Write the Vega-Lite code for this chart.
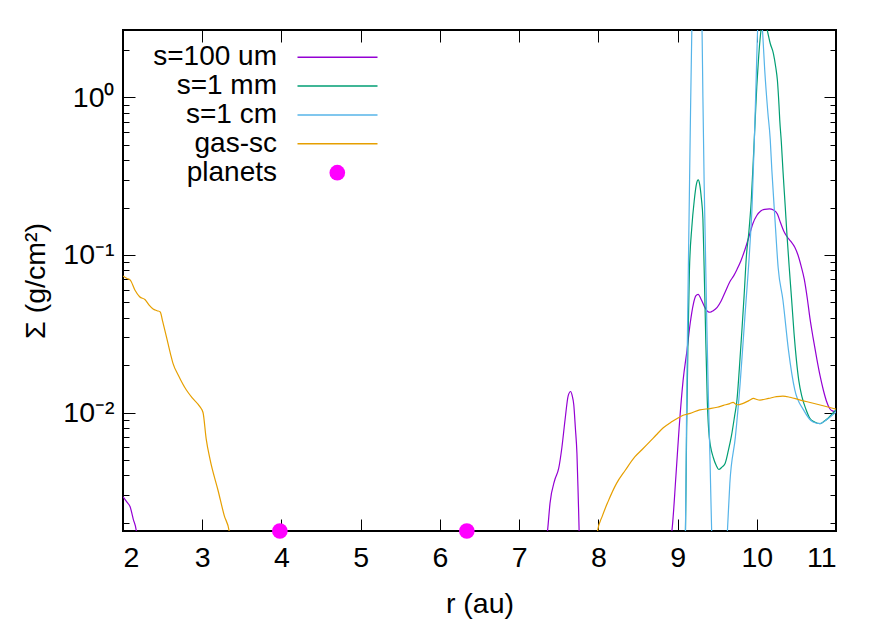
{
  "$schema": "https://vega.github.io/schema/vega-lite/v6.json",
  "width": 713,
  "height": 501,
  "autosize": {"type": "none"},
  "padding": {"left": 123, "top": 30, "right": 52, "bottom": 92},
  "background": "white",
  "config": {
    "view": {"stroke": "black", "strokeWidth": 2},
    "font": "Liberation Sans",
    "axis": {
      "labelFont": "Liberation Sans", "titleFont": "Liberation Sans",
      "labelFontSize": 28.5, "titleFontSize": 28.5,
      "labelColor": "black", "titleColor": "black", "titleFontWeight": "normal",
      "grid": false, "domain": false, "tickColor": "black", "tickWidth": 1
    },
    "legend": {
      "labelFont": "Liberation Sans", "labelFontSize": 28, "labelColor": "black",
      "labelAlign": "right", "padding": 0, "title": null
    }
  },
  "datasets": {
    "curves": [
      {"s": "s=100 um", "r": 2.0, "v": 0.00292},
      {"s": "s=100 um", "r": 2.05, "v": 0.0027},
      {"s": "s=100 um", "r": 2.09, "v": 0.00252},
      {"s": "s=100 um", "r": 2.13, "v": 0.0021},
      {"s": "s=100 um", "r": 2.17, "v": 0.00175},
      {"s": "s=100 um", "r": 2.2, "v": 0.0012},
      {"s": "s=100 um", "r": 7.3, "v": 0.0012},
      {"s": "s=100 um", "r": 7.36, "v": 0.0018},
      {"s": "s=100 um", "r": 7.39, "v": 0.00265},
      {"s": "s=100 um", "r": 7.45, "v": 0.00373},
      {"s": "s=100 um", "r": 7.5, "v": 0.00443},
      {"s": "s=100 um", "r": 7.54, "v": 0.006},
      {"s": "s=100 um", "r": 7.58, "v": 0.009},
      {"s": "s=100 um", "r": 7.62, "v": 0.0128},
      {"s": "s=100 um", "r": 7.65, "v": 0.0136},
      {"s": "s=100 um", "r": 7.67, "v": 0.0128},
      {"s": "s=100 um", "r": 7.69, "v": 0.0112},
      {"s": "s=100 um", "r": 7.71, "v": 0.008},
      {"s": "s=100 um", "r": 7.73, "v": 0.0055},
      {"s": "s=100 um", "r": 7.75, "v": 0.0025},
      {"s": "s=100 um", "r": 7.77, "v": 0.0012},
      {"s": "s=100 um", "r": 8.85, "v": 0.0012},
      {"s": "s=100 um", "r": 8.93, "v": 0.0018},
      {"s": "s=100 um", "r": 8.98, "v": 0.004},
      {"s": "s=100 um", "r": 9.02, "v": 0.008},
      {"s": "s=100 um", "r": 9.07, "v": 0.016},
      {"s": "s=100 um", "r": 9.12, "v": 0.025},
      {"s": "s=100 um", "r": 9.16, "v": 0.037},
      {"s": "s=100 um", "r": 9.2, "v": 0.049},
      {"s": "s=100 um", "r": 9.23, "v": 0.055},
      {"s": "s=100 um", "r": 9.26, "v": 0.0563},
      {"s": "s=100 um", "r": 9.3, "v": 0.052},
      {"s": "s=100 um", "r": 9.34, "v": 0.047},
      {"s": "s=100 um", "r": 9.38, "v": 0.0438},
      {"s": "s=100 um", "r": 9.41, "v": 0.0433},
      {"s": "s=100 um", "r": 9.45, "v": 0.0443},
      {"s": "s=100 um", "r": 9.5, "v": 0.0465},
      {"s": "s=100 um", "r": 9.55, "v": 0.051},
      {"s": "s=100 um", "r": 9.6, "v": 0.058},
      {"s": "s=100 um", "r": 9.66, "v": 0.0676},
      {"s": "s=100 um", "r": 9.71, "v": 0.074},
      {"s": "s=100 um", "r": 9.75, "v": 0.081},
      {"s": "s=100 um", "r": 9.8, "v": 0.092},
      {"s": "s=100 um", "r": 9.85, "v": 0.108},
      {"s": "s=100 um", "r": 9.9, "v": 0.13},
      {"s": "s=100 um", "r": 9.95, "v": 0.158},
      {"s": "s=100 um", "r": 10.0, "v": 0.178},
      {"s": "s=100 um", "r": 10.05, "v": 0.19},
      {"s": "s=100 um", "r": 10.1, "v": 0.195},
      {"s": "s=100 um", "r": 10.16, "v": 0.196},
      {"s": "s=100 um", "r": 10.21, "v": 0.193},
      {"s": "s=100 um", "r": 10.26, "v": 0.182},
      {"s": "s=100 um", "r": 10.3, "v": 0.16},
      {"s": "s=100 um", "r": 10.34, "v": 0.142},
      {"s": "s=100 um", "r": 10.38, "v": 0.131},
      {"s": "s=100 um", "r": 10.43, "v": 0.122},
      {"s": "s=100 um", "r": 10.48, "v": 0.112},
      {"s": "s=100 um", "r": 10.52, "v": 0.1},
      {"s": "s=100 um", "r": 10.56, "v": 0.085},
      {"s": "s=100 um", "r": 10.6, "v": 0.07},
      {"s": "s=100 um", "r": 10.64, "v": 0.052},
      {"s": "s=100 um", "r": 10.67, "v": 0.04},
      {"s": "s=100 um", "r": 10.71, "v": 0.03},
      {"s": "s=100 um", "r": 10.76, "v": 0.0216},
      {"s": "s=100 um", "r": 10.8, "v": 0.017},
      {"s": "s=100 um", "r": 10.84, "v": 0.0139},
      {"s": "s=100 um", "r": 10.88, "v": 0.0118},
      {"s": "s=100 um", "r": 10.92, "v": 0.0106},
      {"s": "s=100 um", "r": 10.96, "v": 0.0102},
      {"s": "s=100 um", "r": 11.0, "v": 0.0101},

      {"s": "s=1 mm", "r": 9.07, "v": 0.001},
      {"s": "s=1 mm", "r": 9.1, "v": 0.0018},
      {"s": "s=1 mm", "r": 9.115, "v": 0.008},
      {"s": "s=1 mm", "r": 9.13, "v": 0.025},
      {"s": "s=1 mm", "r": 9.15, "v": 0.08},
      {"s": "s=1 mm", "r": 9.18, "v": 0.15},
      {"s": "s=1 mm", "r": 9.21, "v": 0.22},
      {"s": "s=1 mm", "r": 9.24, "v": 0.285},
      {"s": "s=1 mm", "r": 9.26, "v": 0.3},
      {"s": "s=1 mm", "r": 9.28, "v": 0.28},
      {"s": "s=1 mm", "r": 9.3, "v": 0.23},
      {"s": "s=1 mm", "r": 9.32, "v": 0.17},
      {"s": "s=1 mm", "r": 9.335, "v": 0.085},
      {"s": "s=1 mm", "r": 9.35, "v": 0.04},
      {"s": "s=1 mm", "r": 9.375, "v": 0.012},
      {"s": "s=1 mm", "r": 9.4, "v": 0.007},
      {"s": "s=1 mm", "r": 9.45, "v": 0.0052},
      {"s": "s=1 mm", "r": 9.49, "v": 0.0046},
      {"s": "s=1 mm", "r": 9.52, "v": 0.00435},
      {"s": "s=1 mm", "r": 9.56, "v": 0.0045},
      {"s": "s=1 mm", "r": 9.6, "v": 0.00475},
      {"s": "s=1 mm", "r": 9.64, "v": 0.0057},
      {"s": "s=1 mm", "r": 9.68, "v": 0.0071},
      {"s": "s=1 mm", "r": 9.72, "v": 0.0095},
      {"s": "s=1 mm", "r": 9.75, "v": 0.012},
      {"s": "s=1 mm", "r": 9.78, "v": 0.019},
      {"s": "s=1 mm", "r": 9.81, "v": 0.032},
      {"s": "s=1 mm", "r": 9.84, "v": 0.055},
      {"s": "s=1 mm", "r": 9.87, "v": 0.1},
      {"s": "s=1 mm", "r": 9.9, "v": 0.14},
      {"s": "s=1 mm", "r": 9.93, "v": 0.22},
      {"s": "s=1 mm", "r": 9.96, "v": 0.44},
      {"s": "s=1 mm", "r": 9.98, "v": 0.72},
      {"s": "s=1 mm", "r": 10.0, "v": 1.17},
      {"s": "s=1 mm", "r": 10.02, "v": 1.7},
      {"s": "s=1 mm", "r": 10.04, "v": 2.3},
      {"s": "s=1 mm", "r": 10.07, "v": 3.0},
      {"s": "s=1 mm", "r": 10.1, "v": 3.1},
      {"s": "s=1 mm", "r": 10.13, "v": 2.7},
      {"s": "s=1 mm", "r": 10.17, "v": 2.2},
      {"s": "s=1 mm", "r": 10.21, "v": 1.9},
      {"s": "s=1 mm", "r": 10.24, "v": 1.55},
      {"s": "s=1 mm", "r": 10.26, "v": 1.29},
      {"s": "s=1 mm", "r": 10.28, "v": 0.9},
      {"s": "s=1 mm", "r": 10.29, "v": 0.72},
      {"s": "s=1 mm", "r": 10.31, "v": 0.52},
      {"s": "s=1 mm", "r": 10.33, "v": 0.347},
      {"s": "s=1 mm", "r": 10.36, "v": 0.2},
      {"s": "s=1 mm", "r": 10.38, "v": 0.137},
      {"s": "s=1 mm", "r": 10.41, "v": 0.083},
      {"s": "s=1 mm", "r": 10.44, "v": 0.052},
      {"s": "s=1 mm", "r": 10.47, "v": 0.032},
      {"s": "s=1 mm", "r": 10.5, "v": 0.0216},
      {"s": "s=1 mm", "r": 10.53, "v": 0.016},
      {"s": "s=1 mm", "r": 10.57, "v": 0.0126},
      {"s": "s=1 mm", "r": 10.62, "v": 0.0105},
      {"s": "s=1 mm", "r": 10.67, "v": 0.0092},
      {"s": "s=1 mm", "r": 10.73, "v": 0.0087},
      {"s": "s=1 mm", "r": 10.8, "v": 0.0085},
      {"s": "s=1 mm", "r": 10.85, "v": 0.0088},
      {"s": "s=1 mm", "r": 10.9, "v": 0.0092},
      {"s": "s=1 mm", "r": 10.95, "v": 0.0098},
      {"s": "s=1 mm", "r": 11.0, "v": 0.0104},

      {"s": "s=1 cm", "r": 9.08, "v": 0.001},
      {"s": "s=1 cm", "r": 9.1, "v": 0.0018},
      {"s": "s=1 cm", "r": 9.115, "v": 0.012},
      {"s": "s=1 cm", "r": 9.13, "v": 0.05},
      {"s": "s=1 cm", "r": 9.145, "v": 0.17},
      {"s": "s=1 cm", "r": 9.16, "v": 0.6},
      {"s": "s=1 cm", "r": 9.18, "v": 2.68},
      {"s": "s=1 cm", "r": 9.21, "v": 7},
      {"s": "s=1 cm", "r": 9.25, "v": 9},
      {"s": "s=1 cm", "r": 9.29, "v": 5},
      {"s": "s=1 cm", "r": 9.31, "v": 2.5},
      {"s": "s=1 cm", "r": 9.32, "v": 1.0},
      {"s": "s=1 cm", "r": 9.335, "v": 0.3},
      {"s": "s=1 cm", "r": 9.35, "v": 0.12},
      {"s": "s=1 cm", "r": 9.37, "v": 0.035},
      {"s": "s=1 cm", "r": 9.39, "v": 0.012},
      {"s": "s=1 cm", "r": 9.41, "v": 0.005},
      {"s": "s=1 cm", "r": 9.43, "v": 0.0018},
      {"s": "s=1 cm", "r": 9.45, "v": 0.001},
      {"s": "s=1 cm", "r": 9.6, "v": 0.001},
      {"s": "s=1 cm", "r": 9.63, "v": 0.0018},
      {"s": "s=1 cm", "r": 9.66, "v": 0.00355},
      {"s": "s=1 cm", "r": 9.73, "v": 0.007},
      {"s": "s=1 cm", "r": 9.79, "v": 0.0153},
      {"s": "s=1 cm", "r": 9.85, "v": 0.0406},
      {"s": "s=1 cm", "r": 9.91, "v": 0.108},
      {"s": "s=1 cm", "r": 9.94, "v": 0.2},
      {"s": "s=1 cm", "r": 9.97, "v": 0.55},
      {"s": "s=1 cm", "r": 9.99, "v": 1.2},
      {"s": "s=1 cm", "r": 10.01, "v": 2.68},
      {"s": "s=1 cm", "r": 10.04, "v": 4.5},
      {"s": "s=1 cm", "r": 10.07, "v": 2.8},
      {"s": "s=1 cm", "r": 10.1, "v": 1.5},
      {"s": "s=1 cm", "r": 10.14, "v": 0.8},
      {"s": "s=1 cm", "r": 10.17, "v": 0.54},
      {"s": "s=1 cm", "r": 10.19, "v": 0.347},
      {"s": "s=1 cm", "r": 10.23, "v": 0.167},
      {"s": "s=1 cm", "r": 10.27, "v": 0.083},
      {"s": "s=1 cm", "r": 10.33, "v": 0.0518},
      {"s": "s=1 cm", "r": 10.4, "v": 0.0249},
      {"s": "s=1 cm", "r": 10.48, "v": 0.0139},
      {"s": "s=1 cm", "r": 10.59, "v": 0.0104},
      {"s": "s=1 cm", "r": 10.71, "v": 0.0087},
      {"s": "s=1 cm", "r": 10.8, "v": 0.0085},
      {"s": "s=1 cm", "r": 10.88, "v": 0.009},
      {"s": "s=1 cm", "r": 11.0, "v": 0.0101},

      {"s": "gas-sc", "r": 2.0, "v": 0.0736},
      {"s": "gas-sc", "r": 2.05, "v": 0.071},
      {"s": "gas-sc", "r": 2.09, "v": 0.0695},
      {"s": "gas-sc", "r": 2.15, "v": 0.06},
      {"s": "gas-sc", "r": 2.21, "v": 0.0543},
      {"s": "gas-sc", "r": 2.28, "v": 0.052},
      {"s": "gas-sc", "r": 2.33, "v": 0.048},
      {"s": "gas-sc", "r": 2.38, "v": 0.0454},
      {"s": "gas-sc", "r": 2.43, "v": 0.0443},
      {"s": "gas-sc", "r": 2.47, "v": 0.0435},
      {"s": "gas-sc", "r": 2.5, "v": 0.038},
      {"s": "gas-sc", "r": 2.55, "v": 0.03},
      {"s": "gas-sc", "r": 2.6, "v": 0.0235},
      {"s": "gas-sc", "r": 2.63, "v": 0.0206},
      {"s": "gas-sc", "r": 2.7, "v": 0.0172},
      {"s": "gas-sc", "r": 2.8, "v": 0.0139},
      {"s": "gas-sc", "r": 2.88, "v": 0.0123},
      {"s": "gas-sc", "r": 2.97, "v": 0.0109},
      {"s": "gas-sc", "r": 3.01, "v": 0.01},
      {"s": "gas-sc", "r": 3.05, "v": 0.0068},
      {"s": "gas-sc", "r": 3.1, "v": 0.005},
      {"s": "gas-sc", "r": 3.2, "v": 0.0032},
      {"s": "gas-sc", "r": 3.28, "v": 0.0022},
      {"s": "gas-sc", "r": 3.34, "v": 0.00177},
      {"s": "gas-sc", "r": 3.38, "v": 0.0012},
      {"s": "gas-sc", "r": 7.95, "v": 0.0012},
      {"s": "gas-sc", "r": 7.99, "v": 0.00177},
      {"s": "gas-sc", "r": 8.05, "v": 0.0022},
      {"s": "gas-sc", "r": 8.12, "v": 0.0027},
      {"s": "gas-sc", "r": 8.23, "v": 0.00355},
      {"s": "gas-sc", "r": 8.34, "v": 0.0043},
      {"s": "gas-sc", "r": 8.46, "v": 0.00523},
      {"s": "gas-sc", "r": 8.55, "v": 0.0058},
      {"s": "gas-sc", "r": 8.65, "v": 0.00653},
      {"s": "gas-sc", "r": 8.73, "v": 0.0072},
      {"s": "gas-sc", "r": 8.82, "v": 0.008},
      {"s": "gas-sc", "r": 8.92, "v": 0.0087},
      {"s": "gas-sc", "r": 9.0, "v": 0.0092},
      {"s": "gas-sc", "r": 9.07, "v": 0.0096},
      {"s": "gas-sc", "r": 9.16, "v": 0.00988},
      {"s": "gas-sc", "r": 9.28, "v": 0.0104},
      {"s": "gas-sc", "r": 9.41, "v": 0.0106},
      {"s": "gas-sc", "r": 9.5, "v": 0.0108},
      {"s": "gas-sc", "r": 9.58, "v": 0.0111},
      {"s": "gas-sc", "r": 9.66, "v": 0.0114},
      {"s": "gas-sc", "r": 9.7, "v": 0.0116},
      {"s": "gas-sc", "r": 9.75, "v": 0.0112},
      {"s": "gas-sc", "r": 9.82, "v": 0.0114},
      {"s": "gas-sc", "r": 9.9, "v": 0.0119},
      {"s": "gas-sc", "r": 9.96, "v": 0.0123},
      {"s": "gas-sc", "r": 10.0, "v": 0.0121},
      {"s": "gas-sc", "r": 10.04, "v": 0.012},
      {"s": "gas-sc", "r": 10.15, "v": 0.0123},
      {"s": "gas-sc", "r": 10.25, "v": 0.0126},
      {"s": "gas-sc", "r": 10.33, "v": 0.0127},
      {"s": "gas-sc", "r": 10.42, "v": 0.0125},
      {"s": "gas-sc", "r": 10.55, "v": 0.012},
      {"s": "gas-sc", "r": 10.7, "v": 0.0115},
      {"s": "gas-sc", "r": 10.85, "v": 0.011},
      {"s": "gas-sc", "r": 10.97, "v": 0.0106},
      {"s": "gas-sc", "r": 11.0, "v": 0.0105}
    ],
    "planets": [
      {"s": "planets", "r": 3.98, "v": 0.00177},
      {"s": "planets", "r": 6.34, "v": 0.00177}
    ]
  },
  "layer": [
    {
      "data": {"name": "curves"},
      "mark": {"type": "line", "clip": true, "strokeWidth": 1.2, "interpolate": "monotone"},
      "encoding": {
        "x": {"field": "r", "type": "quantitative",
          "scale": {"domain": [2, 11], "nice": false, "zero": false},
          "axis": {"orient": "bottom", "values": [2, 3, 4, 5, 6, 7, 8, 9, 10, 11], "tickSize": -12, "labelPadding": 24, "title": "r (au)", "titlePadding": 18}},
        "y": {"field": "v", "type": "quantitative",
          "scale": {"type": "log", "domain": [0.00177, 2.68], "nice": false},
          "axis": {"orient": "left", "values": [0.01, 0.1, 1], "tickSize": -12, "labelPadding": 21,
            "labelExpr": "datum.value > 0.5 ? '10⁰' : (datum.value > 0.05 ? '10⁻¹' : '10⁻²')",
            "title": "Σ (g/cm²)", "titlePadding": 12}},
        "color": {"field": "s", "type": "nominal",
          "scale": {"domain": ["s=100 um", "s=1 mm", "s=1 cm", "gas-sc"], "range": ["#9400d3", "#009e73", "#56b4e9", "#e69f00"]},
          "legend": {"orient": "none", "legendX": 200.5, "legendY": 13.3, "symbolType": "M-4,0H4", "symbolSize": 400, "symbolStrokeWidth": 1.5, "labelOffset": -74.5, "rowPadding": 0.8}}
      }
    },
    {
      "data": {"name": "planets"},
      "mark": {"type": "circle", "size": 245, "opacity": 1, "clip": false},
      "encoding": {
        "x": {"field": "r", "type": "quantitative",
          "axis": {"orient": "top", "values": [2, 3, 4, 5, 6, 7, 8, 9, 10, 11], "tickSize": -12, "labels": false, "title": null}},
        "y": {"field": "v", "type": "quantitative",
          "axis": {"orient": "right", "values": [0.01, 0.1, 1], "tickSize": -12, "labels": false, "title": null}},
        "color": {"field": "s", "type": "nominal",
          "scale": {"domain": ["planets"], "range": ["#ff00ff"]},
          "legend": {"orient": "none", "legendX": 200.3, "legendY": 128.7, "symbolType": "circle", "symbolSize": 245, "symbolStrokeWidth": 0, "labelOffset": -74.3}}
      }
    },
    {
      "data": {"name": "planets"},
      "mark": {"type": "point", "opacity": 0},
      "encoding": {
        "x": {"field": "r", "type": "quantitative", "axis": null},
        "y": {"field": "v", "type": "quantitative",
          "axis": {"orient": "left", "values": [0.002, 0.003, 0.004, 0.005, 0.006, 0.007, 0.008, 0.009, 0.02, 0.03, 0.04, 0.05, 0.06, 0.07, 0.08, 0.09, 0.2, 0.3, 0.4, 0.5, 0.6, 0.7, 0.8, 0.9, 2], "tickSize": -6, "labels": false, "title": null}}
      }
    },
    {
      "data": {"name": "planets"},
      "mark": {"type": "point", "opacity": 0},
      "encoding": {
        "x": {"field": "r", "type": "quantitative", "axis": null},
        "y": {"field": "v", "type": "quantitative",
          "axis": {"orient": "right", "values": [0.002, 0.003, 0.004, 0.005, 0.006, 0.007, 0.008, 0.009, 0.02, 0.03, 0.04, 0.05, 0.06, 0.07, 0.08, 0.09, 0.2, 0.3, 0.4, 0.5, 0.6, 0.7, 0.8, 0.9, 2], "tickSize": -6, "labels": false, "title": null}}
      }
    }
  ],
  "resolve": {
    "scale": {"color": "independent"},
    "axis": {"x": "independent", "y": "independent"},
    "legend": {"color": "independent"}
  }
}
